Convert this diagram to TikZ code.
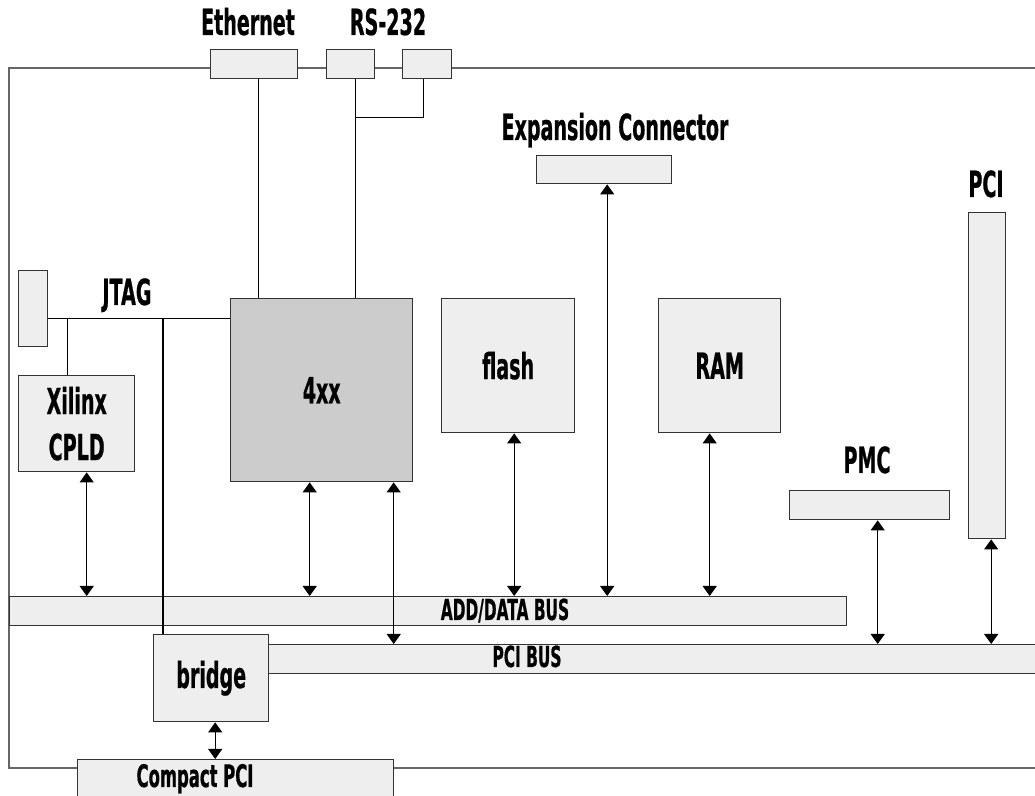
\documentclass[tikz,border=0pt]{standalone}
\usepackage{fontspec}
\setmainfont{DejaVu Sans}[FakeStretch=0.53,FakeBold=0.6]
\usetikzlibrary{arrows.meta,calc}
\definecolor{boxfill}{HTML}{EEEEEE}
\definecolor{cpufill}{HTML}{CCCCCC}
\definecolor{edge}{HTML}{333333}
\definecolor{board}{HTML}{666666}
\tikzset{
  blk/.style 2 args={draw=edge,fill=boxfill,line width=0.7pt,anchor=north west,inner sep=0pt,
    minimum width=#1*0.5pt,minimum height=#2*0.5pt},
  big/.style={font=\fontsize{18}{23}\selectfont\bfseries,align=center},
  mid/.style={font=\fontsize{15.5}{17}\selectfont\bfseries},
  small/.style={font=\fontsize{14.5}{16}\selectfont\bfseries},
  wire/.style={line width=0.6pt},
  biarrow/.style={wire,{Triangle[width=7pt,length=5pt]}-{Triangle[width=7pt,length=5pt]}}
}
\begin{document}
\begin{tikzpicture}[x=0.5pt,y=-0.5pt]
  \useasboundingbox (0,0) rectangle (1035,796);
  \clip (0,0) rectangle (1035,796);
  % board outline
  \draw[board,line width=0.6pt] (1040,68) -- (9,68) -- (9,768) -- (1040,768);

  % connectors on the board edge
  \node[blk={87}{29}] (eth) at (210,49) {};
  \node[blk={48}{29}] (rs1) at (326,49) {};
  \node[blk={49}{29}] (rs2) at (402,49) {};
  \node[big,anchor=base] (ethlbl) at (248,35) {Ethernet};
  \node[big,anchor=base] (rslbl) at (388,35) {RS-232};
  \node[blk={29}{76}] (jtag) at (18,270) {};
  \node[big,anchor=base] (jtaglbl) at (127,305) {JTAG};
  \node[blk={135}{28}] (expc) at (536,155) {};
  \node[big,anchor=base] (explbl) at (615,140) {Expansion Connector};
  \node[blk={37}{326}] (pcic) at (968,212) {};
  \node[big,anchor=base] (pcilbl) at (986,197) {PCI};
  \node[blk={160}{29}] (pmc) at (789,490) {};
  \node[big,anchor=base] (pmclbl) at (867,473) {PMC};
  \node[blk={316}{50}] (compact) at (77,759) {};
  \node[mid,anchor=base] (cpcilbl) at (195,787) {Compact PCI};

  % chips
  \node[blk={116}{96},big] (xilinx) at (18,375) {Xilinx\\CPLD};
  \node[blk={182}{183},big,fill=cpufill] (cpu) at (230,298) {4xx};
  \node[blk={133}{134},big] (flash) at (441,298) {flash};
  \node[blk={122}{134},big] (ram) at (658,298) {RAM};
  \node[blk={115}{87},big] (bridge) at (153,634) {bridge};

  % buses
  \node[blk={837}{29}] (adbus) at (9,596) {};
  \node[small,anchor=base] (adlbl) at (505,620) {ADD/DATA BUS};
  \node[blk={780}{29}] (pcibus) at (268,644) {};
  \node[small,anchor=base] (pcibuslbl) at (527,667) {PCI BUS};

  % serial and ethernet lines
  \coordinate (ethtap) at ($(eth.south)+(4,0)$);
  \coordinate (rs1tap) at ($(rs1.south)+(5,0)$);
  \coordinate (rs2tap) at ($(rs2.south)+(-4,0)$);
  \coordinate (rsjoin) at ($(rs1tap)+(0,38)$);
  \draw[wire] (ethtap) -- (ethtap |- cpu.north);
  \draw[wire] (rs1tap) -- (rs1tap |- cpu.north);
  \draw[wire] (rs2tap) |- (rsjoin);

  % jtag chain
  \coordinate (jt) at ($(jtag.east)+(0,10)$);
  \coordinate (xtap) at ($(xilinx.north)+(-9,0)$);
  \coordinate (brtap) at ($(bridge.north west)+(10,0)$);
  \draw[wire] (jt) -- (jt -| cpu.west);
  \draw[wire] (xtap |- jt) -- (xtap);
  \draw[wire] (brtap |- jt) -- (brtap);

  % bus taps
  \foreach \n/\dx/\b in {xilinx/10/adbus,cpu/-12/adbus,cpu/72/pcibus,flash/6/adbus,
      ram/-10/adbus,expc/3/adbus,pmc/8/pcibus,pcic/4/pcibus,bridge/4/compact}{
    \coordinate (tap) at ($(\n.south)+(\dx,0)$);
    \draw[biarrow] (tap) -- (tap |- \b.north);
  }
\end{tikzpicture}
\end{document}
